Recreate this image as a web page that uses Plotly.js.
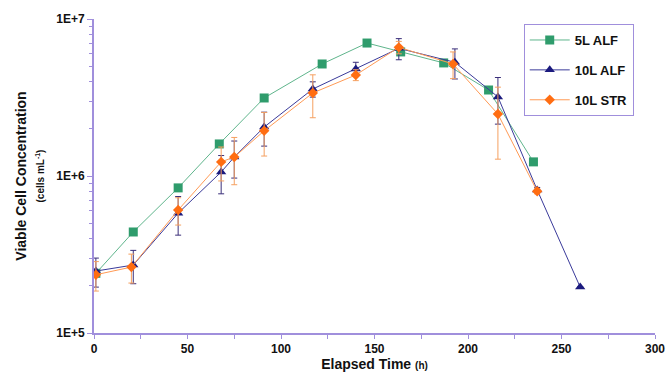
<!DOCTYPE html>
<html>
<head>
<meta charset="utf-8">
<script src="https://cdn.plot.ly/plotly-3.0.1.min.js"></script>
<style>html,body{margin:0;padding:0;background:#fff;}#chart{width:666px;height:375px;}</style>
</head>
<body>
<div id="chart"></div>
<script>
// 5L ALF (no error bars)
const time5LALF = [1, 21, 45, 67, 91, 122, 146, 164, 187, 211, 235];
const vcc5LALF  = [2.4e5, 4.4e5, 8.4e5, 1.6e6, 3.14e6, 5.17e6, 7.03e6, 6.17e6, 5.25e6, 3.53e6, 1.23e6];

// 10L ALF
const time10LALF = [1, 21, 45, 68, 75, 91, 117, 140, 163, 193, 216, 237, 260];
const vcc10LALF  = [2.48e5, 2.71e5, 5.8e5, 1.06e6, 1.32e6, 2.05e6, 3.58e6, 4.8e6, 6.5e6, 5.3e6, 3.19e6, 8.15e5, 1.96e5];
const err10LALF  = [0.52e5, 0.65e5, 1.6e5, 0.29e6, 0.35e6, 0.5e6, 0.4e6, 0.5e6, 1.0e6, 1.15e6, 1.05e6, 0.3e5, 0];

// 10L STR
const time10LSTR = [1, 20, 45, 68, 75, 91, 117, 140, 163, 192, 216, 237];
const vcc10LSTR  = [2.35e5, 2.63e5, 6.07e5, 1.23e6, 1.32e6, 1.94e6, 3.38e6, 4.4e6, 6.6e6, 5.17e6, 2.48e6, 8.0e5];
const err10LSTR  = [0.5e5, 0.55e5, 1.2e5, 0.3e6, 0.44e6, 0.6e6, 1.03e6, 0.35e6, 0.6e6, 1.0e6, 1.2e6, 0.3e5];

const yTickVals = [1e5, 1e6, 1e7];
const yTickText = ['1E+5', '1E+6', '1E+7'];
const xTickVals = [0, 50, 100, 150, 200, 250, 300];

const green = '#2f9c6c', navy = '#1b1a7e', orange = '#ff6d12';
const axisColor = '#a08fdc';

const traces = [
  {
    x: time5LALF, y: vcc5LALF, name: '5L ALF', type: 'scatter', mode: 'lines+markers',
    legendgroup: 'a',
    line: {color: '#5fb58c', width: 1},
    marker: {symbol: 'square', size: 9, color: green}
  },
  {
    x: time10LALF, y: vcc10LALF, name: '10L ALF', type: 'scatter', mode: 'lines+markers',
    legendgroup: 'b',
    line: {color: '#3a3a9a', width: 1},
    marker: {symbol: 'triangle-up', size: 9, color: navy},
    error_y: {type: 'data', array: err10LALF, visible: true, color: '#3b2f7a', thickness: 1, width: 3}
  },
  {
    x: time10LSTR, y: vcc10LSTR, name: '10L STR', type: 'scatter', mode: 'lines+markers',
    legendgroup: 'c',
    line: {color: '#ff9a55', width: 1},
    marker: {symbol: 'diamond', size: 8, color: orange},
    error_y: {type: 'data', array: err10LSTR, visible: true, color: '#f5a060', thickness: 1, width: 3}
  }
];

const layout = {
  width: 666, height: 375,
  margin: {l: 94, r: 11, t: 19, b: 42},
  paper_bgcolor: '#ffffff', plot_bgcolor: '#ffffff',
  font: {family: 'Arial, "Liberation Sans", sans-serif', color: '#111', size: 11},
  showlegend: true,
  legend: {
    x: 0.766, y: 0.984, xanchor: 'left', yanchor: 'top',
    bordercolor: axisColor, borderwidth: 1, bgcolor: '#ffffff',
    font: {size: 13, color: '#111', weight: 'bold'},
    tracegroupgap: 10,
    itemwidth: 40
  },
  xaxis: {
    range: [0, 300], tickmode: 'array', tickvals: xTickVals,
    showgrid: false, zeroline: false, showline: true, linecolor: axisColor, linewidth: 2,
    ticks: 'outside', ticklen: 4, tickcolor: axisColor,
    minor: {dtick: 25, ticks: 'outside', ticklen: 4, tickcolor: axisColor},
    tickfont: {size: 12, weight: 'bold'},
    title: {text: 'Elapsed Time <span style="font-size:10px">(h)</span>', font: {size: 14, weight: 'bold'}, standoff: 4}
  },
  yaxis: {
    type: 'log', range: [5, 7], tickmode: 'array', tickvals: yTickVals, ticktext: yTickText,
    showgrid: false, zeroline: false, showline: true, linecolor: axisColor, linewidth: 2,
    ticks: 'outside', ticklen: 5, tickcolor: axisColor,
    minor: {dtick: 'D1', ticks: 'outside', ticklen: 3, tickcolor: axisColor},
    tickfont: {size: 12, weight: 'bold'},
    title: {text: 'Viable Cell Concentration<br><span style="font-size:10px">(cells mL<sup>-1</sup>)</span>', font: {size: 14, weight: 'bold'}, standoff: 8}
  }
};

Plotly.newPlot('chart', traces, layout, {displayModeBar: false, staticPlot: true});
</script>
</body>
</html>
